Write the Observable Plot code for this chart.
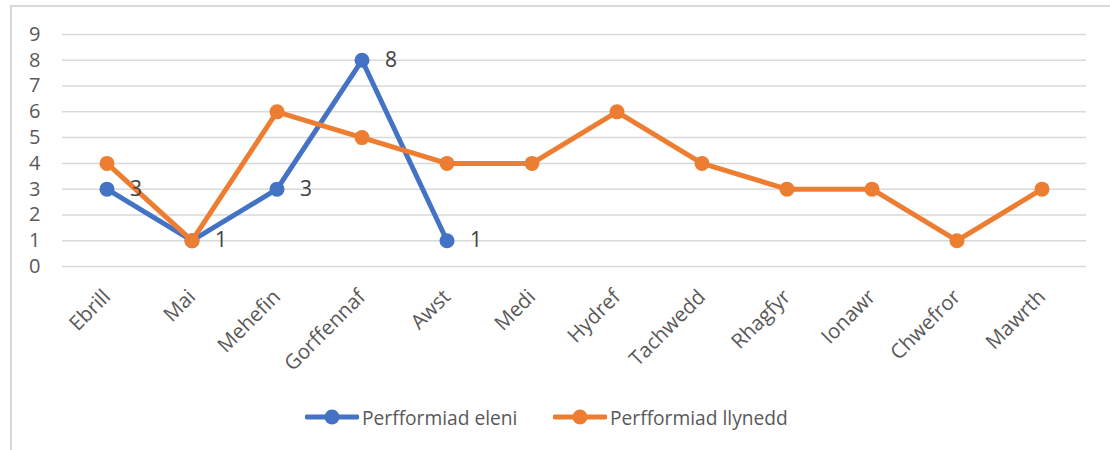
<!DOCTYPE html>
<html>
<head>
<meta charset="utf-8">
<script src="https://cdn.jsdelivr.net/npm/d3@7"></script>
<script src="https://cdn.jsdelivr.net/npm/@observablehq/plot@0.6"></script>
<style>
  body { margin: 0; background: #fff; font-family: "Open Sans", sans-serif; }
  #wrap { position: relative; width: 1110px; height: 450px; overflow: hidden; }
  #frame { position: absolute; left: 10px; top: 5px; width: 1200px; height: 600px;
           border-left: 2px solid #d9d9d9; border-top: 2px solid #d9d9d9; }
  #chart { position: absolute; left: 0; top: 0; }
  #legend { position: absolute; top: 405px; left: 0; width: 1110px; height: 24px;
            font-size: 19.2px; color: #595959; }
  .item { position: absolute; top: 0; display: flex; align-items: center; height: 24px; }
  .item svg { margin-right: 3px; }
</style>
</head>
<body>
<div id="wrap">
  <div id="frame"></div>
  <div id="chart"></div>
  <div id="legend"></div>
</div>
<script>
const months = ["Ebrill", "Mai", "Mehefin", "Gorffennaf", "Awst", "Medi", "Hydref", "Tachwedd", "Rhagfyr", "Ionawr", "Chwefror", "Mawrth"];
const thisYear = [3, 1, 3, 8, 1];
const lastYear = [4, 1, 6, 5, 4, 4, 6, 4, 3, 3, 1, 3];
const seriesNames = ["Perfformiad eleni", "Perfformiad llynedd"];
const colors = ["#4472C4", "#ED7D31"];
const yTicks = [0, 1, 2, 3, 4, 5, 6, 7, 8, 9];

const blue = thisYear.map((v, i) => ({month: months[i], value: v}));
const orange = lastYear.map((v, i) => ({month: months[i], value: v}));

const chart = Plot.plot({
  width: 1110,
  height: 380,
  marginLeft: 62,
  marginRight: 24,
  marginTop: 34,
  marginBottom: 114,
  style: {fontFamily: "'Open Sans', sans-serif", fontSize: "20px", background: "transparent"},
  x: {type: "band", domain: months, padding: 0},
  y: {domain: [0, 9]},
  marks: [
    Plot.ruleY(yTicks, {stroke: "#d9d9d9", strokeWidth: 1.5}),
    Plot.axisY({ticks: yTicks, tickSize: 0, tickPadding: 22, fontSize: 20, color: "#595959", label: null, tickFormat: d => String(d)}),
    Plot.axisX({tickSize: 0, tickPadding: 27, tickRotate: -45, fontSize: 20.5, color: "#595959", label: null}),
    Plot.line(blue, {x: "month", y: "value", stroke: colors[0], strokeWidth: 5, strokeLinejoin: "round", strokeLinecap: "round"}),
    Plot.dot(blue, {x: "month", y: "value", r: 7.5, fill: colors[0], stroke: null}),
    Plot.line(orange, {x: "month", y: "value", stroke: colors[1], strokeWidth: 5, strokeLinejoin: "round", strokeLinecap: "round"}),
    Plot.dot(orange, {x: "month", y: "value", r: 7.5, fill: colors[1], stroke: null}),
    Plot.text(blue, {x: "month", y: "value", text: d => String(d.value), dx: 29, fontSize: 21, fill: "#404040"})
  ]
});
document.getElementById("chart").appendChild(chart);

const legend = document.getElementById("legend");
const lefts = [305, 553];
seriesNames.forEach((name, i) => {
  const item = document.createElement("div");
  item.className = "item";
  item.style.left = lefts[i] + "px";
  item.innerHTML = `<svg width="54" height="24"><line x1="2" y1="12" x2="52" y2="12" stroke="${colors[i]}" stroke-width="5" stroke-linecap="round"/><circle cx="27" cy="12" r="7.5" fill="${colors[i]}"/></svg><span>${name}</span>`;
  legend.appendChild(item);
});
</script>
</body>
</html>
